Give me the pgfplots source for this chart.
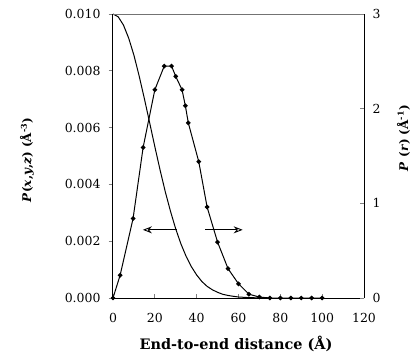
\documentclass[border=0pt]{standalone}
\usepackage{pgfplots}
\pgfplotsset{compat=1.18}
\usepackage{fontspec}
\setmainfont{DejaVu Serif}
\usetikzlibrary{arrows.meta}
\begin{document}
\begin{tikzpicture}
\begin{axis}[
  at={(0,0)}, anchor=south west,
  scale only axis, width=251bp, height=284bp,
  xmin=0, xmax=120, ymin=0, ymax=0.010,
  axis x line*=bottom, axis y line*=left,
  axis line style={-, line width=1pt},
  tick align=inside,
  major tick style={line width=0.9pt},
  y tick style={xshift=-0.15cm},
  xtick={0,20,40,60,80,100,120},
  ytick={0,0.002,0.004,0.006,0.008,0.010},
  scaled y ticks=false,
  /pgf/number format/assume math mode=true,
  yticklabel style={/pgf/number format/fixed, /pgf/number format/fixed zerofill, /pgf/number format/precision=3, xshift=-9bp},
  tick label style={font=\fontsize{12.5}{14}\selectfont},
  xticklabel style={yshift=-12bp},
  xlabel={\textbf{End-to-end distance (Å)}},
  xlabel style={font=\fontsize{14.5}{16}\selectfont, at={(axis description cs:0.49,-0.16)}, anchor=center},
  ylabel={\textbf{\textit{P}(\textit{x},\textit{y},\textit{z}) (Å\textsuperscript{-3})}},
  ylabel style={font=\fontsize{12}{14}\selectfont, at={(axis description cs:-0.343,0.486)}, anchor=center},
  clip=false,
]
\addplot[black, line width=1pt] coordinates {
(0,0.0100) (2.5,0.00990) (5,0.00961) (7.5,0.00915) (10,0.00855) (12.5,0.00782)
(15,0.00702) (17.5,0.00618) (20,0.00533) (22.5,0.00451) (25,0.00374) (27.5,0.00305)
(30,0.00243) (32.5,0.00190) (35,0.00146) (37.5,0.00110) (40,0.00081) (42.5,0.00058)
(45,0.00041) (47.5,0.00029) (50,0.00020) (52.5,0.00013) (55,0.00009) (57.5,0.00006)
(60,0.000035) (65,0.000013) (70,0.000005) (75,0)
};
\draw[line width=0.9pt, -{Stealth[length=9bp,width=7bp,open]}] (axis cs:30.5,0.0024) -- (axis cs:14.3,0.0024);
\draw[line width=0.9pt, -{Stealth[length=9bp,width=7bp,open]}] (axis cs:44,0.0024) -- (axis cs:62,0.0024);
\draw[black!55, line width=0.9pt] (axis cs:0,0.010) -- (axis cs:120,0.010);
\end{axis}
\begin{axis}[
  at={(0,0)}, anchor=south west,
  scale only axis, width=251bp, height=284bp,
  xmin=0, xmax=120, ymin=0, ymax=3,
  axis x line=none, axis y line*=right,
  axis line style={-, line width=1pt},
  tick align=inside,
  major tick style={line width=0.9pt},
  ytick={0,1,2,3},
  /pgf/number format/assume math mode=true,
  tick label style={font=\fontsize{12.5}{14}\selectfont},
  yticklabel style={xshift=5bp},
  ylabel={\textbf{\textit{P} (\textit{r}) (Å\textsuperscript{-1})}},
  ylabel style={font=\fontsize{12}{14}\selectfont, at={(axis description cs:1.157,0.563)}, anchor=center},
  clip=false,
]
\addplot[black, line width=1pt, mark=*, mark size=1.8pt] coordinates {
(0,0) (3.4,0.24) (9.6,0.84) (14.4,1.59) (20,2.2) (24.5,2.45) (28,2.45) (30,2.34)
(33,2.2) (34.6,2.03) (36,1.85) (41,1.44) (45,0.96) (50,0.59) (55,0.31) (60,0.15)
(65,0.04) (70,0.01) (75,0) (80,0) (85,0) (90,0) (95,0) (100,0)
};
\end{axis}
\pgfresetboundingbox
\path (-113bp,-59bp) rectangle (303bp,298bp);
\end{tikzpicture}
\end{document}
